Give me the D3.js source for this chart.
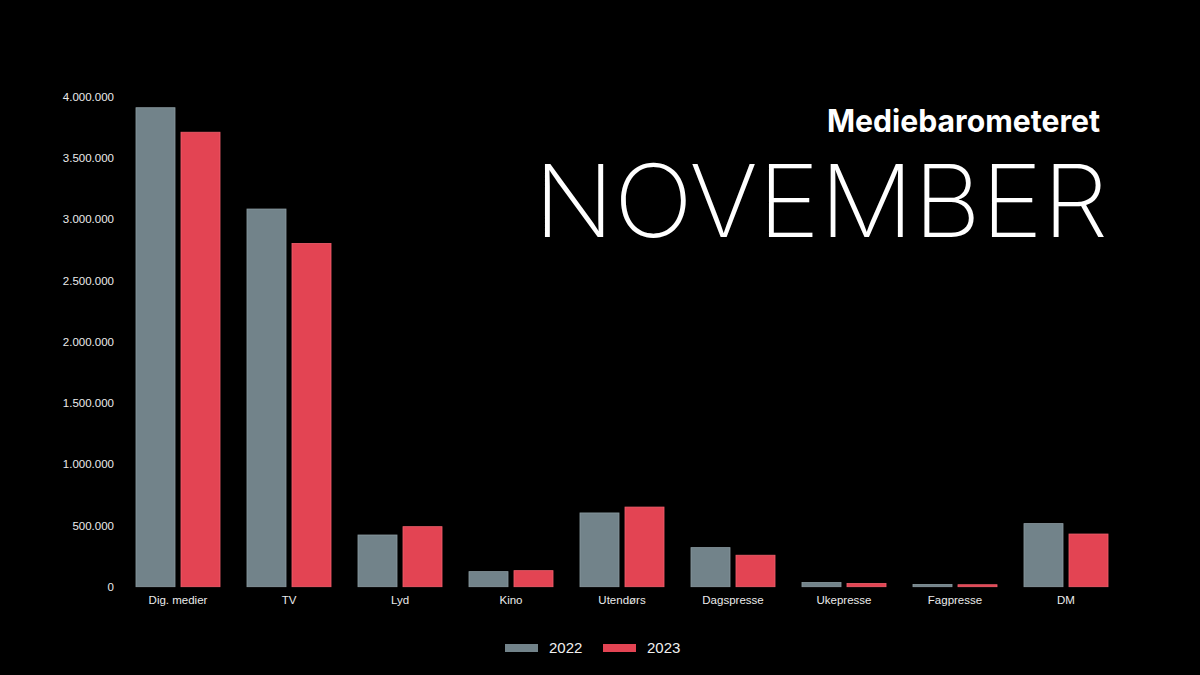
<!DOCTYPE html>
<html>
<head>
<meta charset="utf-8">
<script src="https://cdn.jsdelivr.net/npm/d3@7"></script>
<style>
  html, body { margin: 0; padding: 0; background: #000; }
  svg { display: block; }
</style>
</head>
<body>
<svg width="1200" height="675"></svg>
<script>
// data
const categories = ["Dig. medier", "TV", "Lyd", "Kino", "Utendørs", "Dagspresse", "Ukepresse", "Fagpresse", "DM"];
const years = ["2022", "2023"];
const values2022 = [3910000, 3083000, 422000, 123000, 602000, 319000, 34000, 18000, 515000];
const values2023 = [3710000, 2802000, 490000, 131000, 650000, 257000, 26000, 16000, 430000];
const yTicks = [0, 500000, 1000000, 1500000, 2000000, 2500000, 3000000, 3500000, 4000000];

const colors = { "2022": "#72838a", "2023": "#e34453" };
const strokes = { "2022": "#8c9ca2", "2023": "#f2606d" };

const rows = categories.map((c, i) => ({ cat: c, "2022": values2022[i], "2023": values2023[i] }));

const svg = d3.select("svg");
svg.append("rect").attr("width", 1200).attr("height", 675).attr("fill", "#000");

const x = d3.scaleBand().domain(categories).range([123, 1121]).paddingInner(0.243).paddingOuter(0.117);
const x1 = d3.scaleBand().domain(years).range([0, x.bandwidth()]).paddingInner(0.133);
const y = d3.scaleLinear().domain([0, 4000000]).range([586.7, 96.7]);

const no = d3.formatLocale({ decimal: ",", thousands: ".", grouping: [3], currency: ["", " kr"] });
const fmt = no.format(",d");

// y axis (labels only)
const yAxis = svg.append("g")
  .attr("transform", "translate(114,0)")
  .call(d3.axisLeft(y).tickValues(yTicks).tickFormat(fmt).tickSize(0).tickPadding(0));
yAxis.select(".domain").remove();
yAxis.selectAll("text")
  .style("font-family", "'Liberation Sans', Arial, sans-serif")
  .style("font-size", "11.5px")
  .attr("fill", "#ebebeb");

// x axis (labels only)
const xAxis = svg.append("g")
  .attr("transform", "translate(0,586.7)")
  .call(d3.axisBottom(x).tickSize(0).tickPadding(9));
xAxis.select(".domain").remove();
xAxis.selectAll("text")
  .style("font-family", "'Liberation Sans', Arial, sans-serif")
  .style("font-size", "11.5px")
  .attr("fill", "#ebebeb");

// bars
const groups = svg.selectAll(".gruppe")
  .data(rows)
  .join("g")
  .attr("class", "gruppe")
  .attr("transform", d => `translate(${x(d.cat)},0)`);

groups.selectAll("rect")
  .data(d => years.map(k => ({ key: k, value: d[k] })))
  .join("rect")
  .attr("x", d => x1(d.key))
  .attr("y", d => y(d.value))
  .attr("width", x1.bandwidth())
  .attr("height", d => y(0) - y(d.value))
  .attr("fill", d => colors[d.key])
  .attr("stroke", d => strokes[d.key])
  .attr("stroke-width", 0.8);

// legend
const legendPos = { "2022": 505, "2023": 603 };
const legend = svg.selectAll(".legende")
  .data(years)
  .join("g")
  .attr("class", "legende")
  .attr("transform", d => `translate(${legendPos[d]},644)`);
legend.append("rect")
  .attr("width", 33).attr("height", 8)
  .attr("fill", d => colors[d]);
legend.append("text")
  .text(d => d)
  .attr("x", 44).attr("y", 9)
  .style("font-family", "'Liberation Sans', Arial, sans-serif")
  .style("font-size", "15px")
  .attr("fill", "#f0f0f0");

// titles
svg.append("text")
  .text("Mediebarometeret")
  .attr("x", 827).attr("y", 131.5)
  .attr("textLength", 273)
  .attr("lengthAdjust", "spacingAndGlyphs")
  .style("font-family", "Inter, 'Open Sans', sans-serif")
  .style("font-weight", "700")
  .style("font-size", "31px")
  .attr("fill", "#fff");

svg.append("text")
  .text("NOVEMBER")
  .attr("x", 534).attr("y", 236.7)
  .attr("textLength", 574)
  .attr("lengthAdjust", "spacingAndGlyphs")
  .style("font-family", "Inter, 'Open Sans', sans-serif")
  .style("font-weight", "200")
  .style("font-size", "101px")
  .attr("fill", "#fff");
</script>
</body>
</html>
